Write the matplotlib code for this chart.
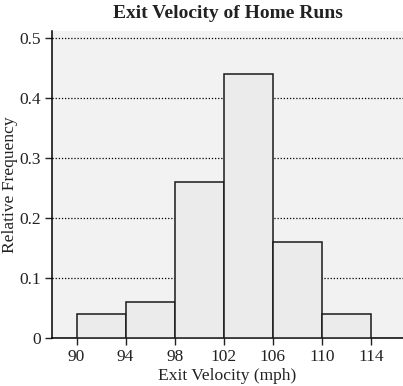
import matplotlib.pyplot as plt

bin_edges = [90, 94, 98, 102, 106, 110, 114]
rel_freq = [0.04, 0.06, 0.26, 0.44, 0.16, 0.04]
y_ticks = [0, 0.1, 0.2, 0.3, 0.4, 0.5]
y_tick_labels = ['0', '0.1', '0.2', '0.3', '0.4', '0.5']

plt.rcParams['font.family'] = ['Liberation Serif', 'DejaVu Serif']

fig = plt.figure(figsize=(4.03, 3.86), dpi=100)
ax = fig.add_axes([0.129, 0.124, 0.871, 0.796])
ax.set_facecolor('#f2f2f2')

lefts = bin_edges[:-1]
widths = [b - a for a, b in zip(bin_edges[:-1], bin_edges[1:])]
ax.bar(lefts, rel_freq, width=widths, align='edge', color='#ebebeb',
       edgecolor='#1a1a1a', linewidth=1.1, zorder=3)

ax.set_xlim(88, 116.6)
ax.set_ylim(0, 0.512)
ax.set_xticks(bin_edges)
ax.set_yticks(y_ticks)
ax.set_yticklabels(y_tick_labels)
ax.yaxis.grid(True, linestyle=(0, (1, 1.5)), color='black', linewidth=0.9, zorder=1)
ax.set_axisbelow(True)

for s in ['top', 'right']:
    ax.spines[s].set_visible(False)
for s in ['left', 'bottom']:
    ax.spines[s].set_linewidth(1.1)
ax.tick_params(direction='out', length=5, width=1, pad=3, labelsize=12.5, colors='#222222')

ax.set_xlabel('Exit Velocity (mph)', fontsize=12.6, color='#222222', va='center')
ax.xaxis.set_label_coords(0.5, -0.124)
ax.set_ylabel('Relative Frequency', fontsize=12.6, color='#222222', va='center')
ax.yaxis.set_label_coords(-0.12, 0.5)
ax.set_title('Exit Velocity of Home Runs', fontsize=14, fontweight='bold', pad=9, color='#222222')

plt.savefig('out.png', dpi=100)
